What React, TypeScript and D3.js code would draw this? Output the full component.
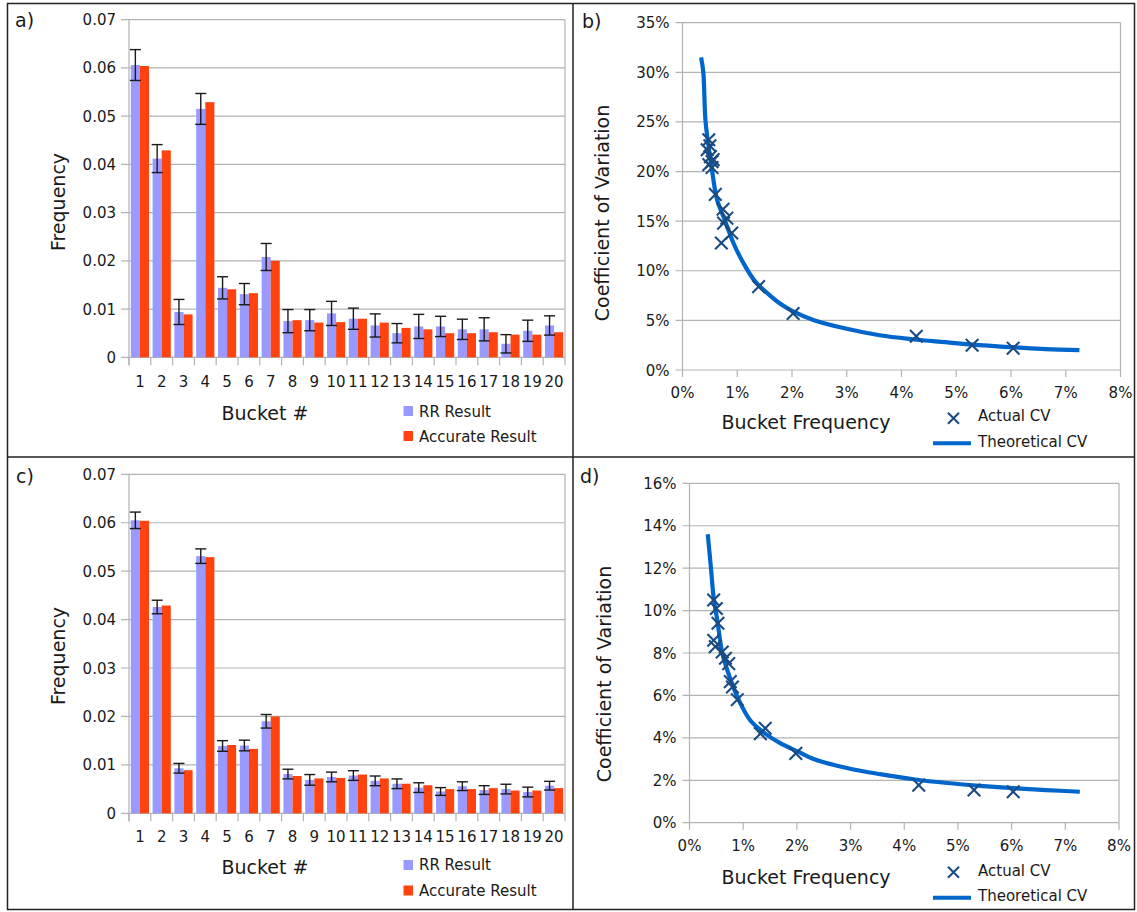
import React from "react";
import * as d3 from "d3";

// ---------- DATA ----------
const buckets = ["1","2","3","4","5","6","7","8","9","10","11","12","13","14","15","16","17","18","19","20"];
const accurate = [0.0604,0.0429,0.0089,0.0529,0.0141,0.0133,0.0200,0.0077,0.0072,0.0073,0.0080,0.0072,0.0061,0.0058,0.0050,0.0050,0.0052,0.0047,0.0047,0.0052];
const rrA = [0.0606,0.0412,0.0094,0.0515,0.0144,0.0131,0.0208,0.0075,0.0077,0.0091,0.0080,0.0066,0.0050,0.0064,0.0064,0.0058,0.0058,0.0028,0.0055,0.0066];
const errA = [0.0032,0.0029,0.0026,0.0032,0.0023,0.0022,0.0028,0.0024,0.0022,0.0025,0.0022,0.0024,0.0020,0.0025,0.0021,0.0021,0.0024,0.0019,0.0022,0.0020];
const rrC = [0.0605,0.0426,0.0093,0.0531,0.0139,0.0140,0.0190,0.0081,0.0069,0.0075,0.0078,0.0067,0.0061,0.0053,0.0045,0.0056,0.0048,0.0050,0.0044,0.0057];
const errC = [0.0017,0.0014,0.0010,0.0015,0.0011,0.0011,0.0014,0.0010,0.0011,0.0010,0.0010,0.0010,0.0010,0.0010,0.0008,0.0009,0.0009,0.0010,0.0010,0.0009];
const freqTicks = [0,0.01,0.02,0.03,0.04,0.05,0.06,0.07];
const freqTickLabels = ["0","0.01","0.02","0.03","0.04","0.05","0.06","0.07"];

const actualFreqB = [0.48,0.50,0.51,0.54,0.48,0.56,0.45,0.54,0.60,0.74,0.81,0.75,0.90,0.71,1.39,2.02,4.27,5.29,6.04];
const actualCvB = [23.2,22.6,21.5,21.0,20.7,21.2,22.2,20.4,17.7,16.2,15.3,14.8,13.8,12.8,8.4,5.7,3.4,2.5,2.2];
const theoFreqB = [0.34,0.38,0.42,0.48,0.54,0.63,0.78,0.93,1.11,1.33,1.60,1.78,2.02,2.39,3.0,3.6,4.2,4.8,5.42,6.03,6.63,7.25];
const theoCvB = [31.5,30.0,25.1,22.4,20.1,17.2,15.0,12.8,10.8,8.9,7.5,6.7,5.9,5.05,4.15,3.5,3.1,2.8,2.5,2.3,2.1,2.0];

const actualFreqD = [0.45,0.50,0.53,0.45,0.48,0.61,0.67,0.73,0.76,0.80,0.89,1.32,1.41,1.98,4.27,5.30,6.03];
const actualCvD = [10.5,10.1,9.4,8.6,8.3,8.05,7.75,7.5,6.65,6.4,5.8,4.2,4.45,3.27,1.77,1.54,1.46];
const theoFreqD = [0.34,0.40,0.45,0.52,0.61,0.73,0.92,1.13,1.41,1.69,2.03,2.31,2.93,3.55,4.17,4.8,5.41,6.03,6.65,7.27];
const theoCvD = [13.6,12.0,10.6,9.5,8.0,7.0,5.77,4.83,4.2,3.75,3.34,3.0,2.58,2.29,2.05,1.87,1.74,1.63,1.54,1.46];

const xPctTicks = [0,1,2,3,4,5,6,7,8];
const yPctTicksB = [0,5,10,15,20,25,30,35];
const yPctTicksD = [0,2,4,6,8,10,12,14,16];

// ---------- STYLE ----------
const FONT = "DejaVu Sans, sans-serif";
const GRID = "#b3b3b3";
const BLUE = "#9999ff";
const RED = "#ff420e";
const LINE = "#0066cc";
const MARK = "#1b4b80";
const TXT = "#1a1a1a";

function BarPanel(p: any) {
  const { x0, x1, y0, y1, rr, err, tag, tagY, labY, titleY, legY1, legY2, legT1, legT2, yTitleY } = p;
  const x = d3.scaleBand<string>().domain(buckets).range([x0, x1]);
  const y = d3.scaleLinear().domain([0, 0.07]).range([y1, y0]);
  const inner = d3.scaleBand<string>().domain(["rr", "acc"]).range([0, x.bandwidth()]).paddingOuter(0.2).paddingInner(0);
  const bw = inner.bandwidth();
  return (
    <g>
      {freqTicks.map((t, i) => (
        <g key={i}>
          <line x1={x0 - 8} x2={x1} y1={y(t)} y2={y(t)} stroke={GRID} strokeWidth={1.2} />
          <text x={x0 - 13} y={y(t) + 5.5} textAnchor="end" fontSize={15} fill={TXT} fontFamily={FONT}>{freqTickLabels[i]}</text>
        </g>
      ))}
      <line x1={x0} x2={x0} y1={y0} y2={y1 + 8} stroke={GRID} strokeWidth={1.2} />
      <line x1={x1} x2={x1} y1={y0} y2={y1 + 8} stroke={GRID} strokeWidth={1.2} />
      {buckets.map((b) => (
        <line key={"t" + b} x1={(x(b) as number)} x2={(x(b) as number)} y1={y1} y2={y1 + 8} stroke={GRID} strokeWidth={1.2} />
      ))}
      {buckets.map((b, i) => {
        const bx = x(b) as number;
        const rx = bx + (inner("rr") as number);
        const ax = bx + (inner("acc") as number);
        const cx = rx + bw / 2;
        return (
          <g key={"b" + b}>
            <rect x={rx} y={y(rr[i])} width={bw} height={y1 - y(rr[i])} fill={BLUE} />
            <rect x={ax} y={y(accurate[i])} width={bw} height={y1 - y(accurate[i])} fill={RED} />
            <line x1={cx} x2={cx} y1={y(rr[i] + err[i])} y2={y(rr[i] - err[i])} stroke={TXT} strokeWidth={1.4} />
            <line x1={cx - 5.5} x2={cx + 5.5} y1={y(rr[i] + err[i])} y2={y(rr[i] + err[i])} stroke={TXT} strokeWidth={1.4} />
            <line x1={cx - 5.5} x2={cx + 5.5} y1={y(rr[i] - err[i])} y2={y(rr[i] - err[i])} stroke={TXT} strokeWidth={1.4} />
            <text x={bx + x.bandwidth() / 2} y={labY} textAnchor="middle" fontSize={15} fill={TXT} fontFamily={FONT}>{b}</text>
          </g>
        );
      })}
      <text x={tag[0]} y={tagY} fontSize={19} fill={TXT} fontFamily={FONT}>{tag[1]}</text>
      <text transform={`translate(65,${yTitleY}) rotate(-90)`} textAnchor="middle" fontSize={19} fill={TXT} fontFamily={FONT}>Frequency</text>
      <text x={265} y={titleY} textAnchor="middle" fontSize={19} fill={TXT} fontFamily={FONT}>Bucket #</text>
      <rect x={403.5} y={legY1} width={9.5} height={10} fill={BLUE} />
      <text x={419} y={legT1} fontSize={15} fill={TXT} fontFamily={FONT}>RR Result</text>
      <rect x={403.5} y={legY2} width={9.5} height={10} fill={RED} />
      <text x={419} y={legT2} fontSize={15} fill={TXT} fontFamily={FONT}>Accurate Result</text>
    </g>
  );
}

function XMark({ cx, cy, r }: any) {
  return (
    <g>
      <line x1={cx - r} x2={cx + r} y1={cy - r} y2={cy + r} stroke={MARK} strokeWidth={2.1} />
      <line x1={cx - r} x2={cx + r} y1={cy + r} y2={cy - r} stroke={MARK} strokeWidth={2.1} />
    </g>
  );
}

function ScatterPanel(p: any) {
  const { x0, x1, y0, y1, yMax, yTicks, af, acv, tf, tcv, tag, tagY, labY, titleY, yTitleX, yTitleY, legX, legXT, legL, legLT } = p;
  const x = d3.scaleLinear().domain([0, 8]).range([x0, x1]);
  const y = d3.scaleLinear().domain([0, yMax]).range([y1, y0]);
  const pts = tf.map((f: number, i: number) => [x(f), y(tcv[i])] as [number, number]);
  const path = d3.line().curve(d3.curveCatmullRom.alpha(0.5))(pts) || "";
  return (
    <g>
      {yTicks.map((t: number) => (
        <g key={"y" + t}>
          <line x1={x0 - 7} x2={x1} y1={y(t)} y2={y(t)} stroke={GRID} strokeWidth={1.2} />
          <text x={x0 - 13} y={y(t) + 5.5} textAnchor="end" fontSize={15} fill={TXT} fontFamily={FONT}>{t}%</text>
        </g>
      ))}
      <line x1={x0} x2={x0} y1={y0} y2={y1} stroke={GRID} strokeWidth={1.2} />
      <line x1={x1} x2={x1} y1={y0} y2={y1} stroke={GRID} strokeWidth={1.2} />
      {xPctTicks.map((t) => (
        <g key={"x" + t}>
          <line x1={x(t)} x2={x(t)} y1={y1} y2={y1 + 7} stroke={GRID} strokeWidth={1.2} />
          <text x={x(t)} y={labY} textAnchor="middle" fontSize={15} fill={TXT} fontFamily={FONT}>{t}%</text>
        </g>
      ))}
      <path d={path} fill="none" stroke={LINE} strokeWidth={4.2} strokeLinecap="butt" />
      {af.map((f: number, i: number) => (
        <XMark key={"m" + i} cx={x(f)} cy={y(acv[i])} r={6.3} />
      ))}
      <text x={tag[0]} y={tagY} fontSize={19} fill={TXT} fontFamily={FONT}>{tag[1]}</text>
      <text transform={`translate(${yTitleX},${yTitleY}) rotate(-90)`} textAnchor="middle" fontSize={19} fill={TXT} fontFamily={FONT}>Coefficient of Variation</text>
      <text x={806} y={titleY} textAnchor="middle" fontSize={19} fill={TXT} fontFamily={FONT}>Bucket Frequency</text>
      <XMark cx={953.5} cy={legX} r={5.5} />
      <text x={978} y={legXT} fontSize={15} fill={TXT} fontFamily={FONT}>Actual CV</text>
      <line x1={933} x2={971} y1={legL} y2={legL} stroke={LINE} strokeWidth={4} />
      <text x={978} y={legLT} fontSize={15} fill={TXT} fontFamily={FONT}>Theoretical CV</text>
    </g>
  );
}

export default function App() {
  return (
    <svg width={1137} height={912} style={{ position: "absolute", left: 0, top: 0, background: "#fff" }}>
      <rect x={0} y={0} width={1137} height={912} fill="#fff" />
      <BarPanel x0={129} x1={565} y0={19.7} y1={357.3} rr={rrA} err={errA} tag={[15, "a)"]} tagY={27}
        labY={387} titleY={420} legY1={406} legY2={431} legT1={416.5} legT2={441.5} yTitleY={202} />
      <BarPanel x0={129} x1={565} y0={474.3} y1={813.3} rr={rrC} err={errC} tag={[16, "c)"]} tagY={483}
        labY={842} titleY={874} legY1={860} legY2={885.5} legT1={870} legT2={895.5} yTitleY={656} />
      <ScatterPanel x0={682.5} x1={1120.5} y0={22.7} y1={370} yMax={35} yTicks={yPctTicksB}
        af={actualFreqB} acv={actualCvB} tf={theoFreqB} tcv={theoCvB} tag={[582, "b)"]} tagY={27.5}
        labY={398} titleY={429} yTitleX={609} yTitleY={213} legX={418.3} legXT={421} legL={443.3} legLT={447} />
      <ScatterPanel x0={689.5} x1={1119} y0={483.3} y1={822.7} yMax={16} yTicks={yPctTicksD}
        af={actualFreqD} acv={actualCvD} tf={theoFreqD} tcv={theoCvD} tag={[580, "d)"]} tagY={483}
        labY={851} titleY={884} yTitleX={611} yTitleY={674} legX={872.3} legXT={875.5} legL={897.7} legLT={901} />
      <rect x={7.5} y={3.5} width={1127} height={906} fill="none" stroke="#222" strokeWidth={1.5} />
      <line x1={573} x2={573} y1={3.5} y2={909.5} stroke="#222" strokeWidth={1.5} />
      <line x1={7.5} x2={1134.5} y1={457} y2={457} stroke="#222" strokeWidth={1.5} />
    </svg>
  );
}
